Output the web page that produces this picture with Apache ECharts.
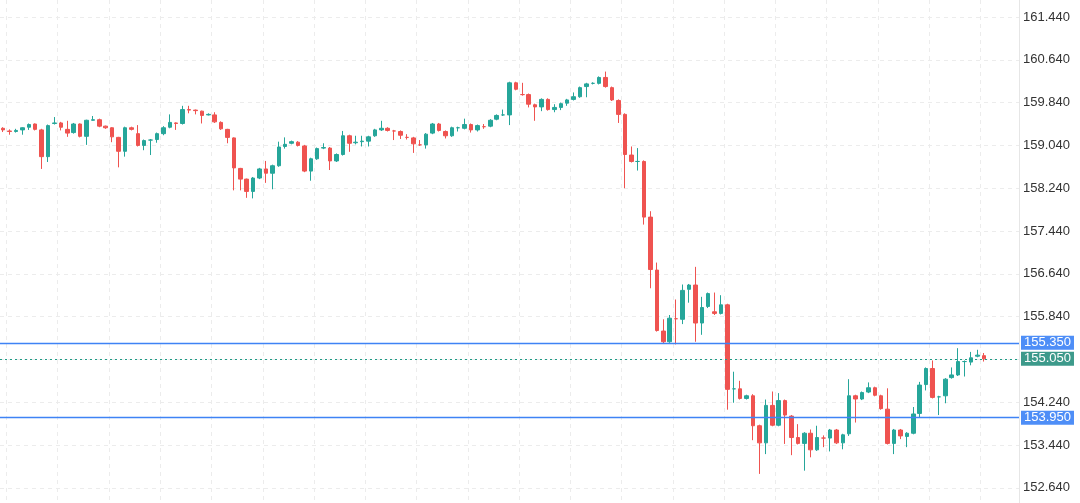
<!DOCTYPE html>
<html><head><meta charset="utf-8">
<script src="https://cdn.jsdelivr.net/npm/echarts@6/dist/echarts.min.js"></script>
<style>html,body{margin:0;padding:0;background:#fff}#c{width:1080px;height:503px}</style>
</head><body><div id="c"></div>
<script>
// [open, close, low, high]
const ohlc = [
[159.36,159.33,159.29,159.38],[159.31,159.30,159.24,159.34],[159.30,159.32,159.28,159.35],[159.33,159.37,159.24,159.38],
[159.38,159.43,159.33,159.45],[159.44,159.34,159.32,159.45],[159.33,158.83,158.60,159.35],[158.83,159.41,158.73,159.43],
[159.45,159.46,159.43,159.57],[159.46,159.38,159.32,159.48],[159.34,159.27,159.20,159.50],[159.28,159.44,159.26,159.46],
[159.44,159.21,159.19,159.45],[159.21,159.51,159.05,159.52],[159.51,159.52,159.50,159.59],[159.52,159.40,159.38,159.54],
[159.40,159.37,159.35,159.41],[159.37,159.20,159.10,159.38],[159.19,158.93,158.63,159.20],[158.93,159.37,158.83,159.39],
[159.37,159.34,159.32,159.39],[159.26,159.04,159.02,159.42],[159.04,159.13,158.95,159.15],[159.14,159.14,158.86,159.16],
[159.15,159.26,159.09,159.28],[159.26,159.37,159.23,159.40],[159.38,159.47,159.36,159.62],[159.46,159.45,159.33,159.47],
[159.45,159.71,159.43,159.78],[159.71,159.70,159.64,159.78],[159.70,159.69,159.62,159.71],[159.68,159.60,159.45,159.69],
[159.61,159.62,159.60,159.64],[159.61,159.48,159.46,159.66],[159.47,159.35,159.33,159.49],[159.34,159.19,159.08,159.35],
[159.18,158.62,158.20,159.19],[158.61,158.41,158.20,158.62],[158.41,158.18,158.06,158.42],[158.18,158.43,158.05,158.45],
[158.43,158.60,158.41,158.62],[158.60,158.52,158.34,158.75],[158.52,158.66,158.22,158.68],[158.66,159.01,158.64,159.11],
[159.02,159.06,158.98,159.19],[159.08,159.11,159.06,159.13],[159.10,159.04,159.02,159.12],[159.03,158.56,158.54,159.05],
[158.56,158.79,158.38,158.81],[158.79,158.98,158.77,159.00],[158.99,159.00,158.97,159.08],[158.99,158.75,158.58,159.01],
[158.75,158.87,158.73,158.89],[158.87,159.22,158.85,159.31],[159.22,159.08,158.92,159.24],[159.09,159.10,159.06,159.22],
[159.11,159.12,159.02,159.22],[159.12,159.20,159.02,159.22],[159.22,159.33,159.20,159.35],[159.33,159.36,159.31,159.50],
[159.36,159.32,159.30,159.38],[159.31,159.31,159.14,159.33],[159.30,159.23,159.16,159.32],[159.19,159.19,159.15,159.25],
[159.18,159.07,158.90,159.20],[159.05,159.05,159.03,159.14],[159.05,159.25,158.98,159.27],[159.27,159.44,159.25,159.46],
[159.44,159.32,159.30,159.46],[159.30,159.22,159.17,159.32],[159.22,159.37,159.20,159.39],[159.37,159.37,159.30,159.39],
[159.36,159.43,159.34,159.54],[159.43,159.33,159.28,159.45],[159.33,159.41,159.30,159.43],[159.39,159.39,159.35,159.44],
[159.40,159.51,159.38,159.53],[159.53,159.60,159.51,159.62],[159.61,159.61,159.59,159.71],[159.61,160.21,159.42,160.23],
[160.21,160.09,160.07,160.23],[159.99,159.99,159.97,160.21],[159.99,159.81,159.75,160.01],[159.80,159.76,159.50,159.82],
[159.76,159.90,159.68,159.92],[159.90,159.71,159.69,159.92],[159.71,159.75,159.66,159.81],[159.75,159.82,159.70,159.84],
[159.83,159.89,159.78,159.91],[159.90,159.95,159.88,160.03],[159.95,160.12,159.93,160.14],[160.14,160.19,159.94,160.21],
[160.20,160.20,160.18,160.22],[160.20,160.31,160.18,160.33],[160.31,160.14,160.12,160.42],[160.12,159.89,159.87,160.14],
[159.88,159.62,159.46,159.90],[159.62,158.87,158.24,159.64],[158.86,158.74,158.72,159.02],[158.74,158.74,158.57,158.99],
[158.74,157.70,157.56,158.76],[157.70,156.72,156.37,157.81],[156.71,155.58,155.56,156.85],[155.57,155.37,155.33,155.79],
[155.37,155.81,155.35,155.87],[155.80,155.80,155.32,156.16],[155.79,156.33,155.70,156.44],[156.35,156.43,156.10,156.45],
[156.43,155.72,155.37,156.77],[155.72,156.01,155.50,156.21],[156.03,156.27,156.00,156.29],[155.93,155.90,155.87,156.29],
[155.90,156.06,155.88,156.24],[156.06,154.48,154.10,156.08],[154.49,154.49,154.23,154.81],[154.49,154.31,154.29,154.64],
[154.31,154.36,154.29,154.38],[154.36,153.80,153.53,154.39],[153.80,153.48,152.90,153.82],[153.48,154.18,153.27,154.29],
[154.18,153.81,153.79,154.44],[153.81,154.27,153.79,154.41],[154.27,154.00,153.46,154.29],[153.98,153.58,153.25,154.00],
[153.58,153.47,153.45,153.83],[153.47,153.66,152.96,153.68],[153.66,153.35,153.21,153.73],[153.35,153.58,153.33,153.80],
[153.57,153.57,153.40,153.62],[153.57,153.72,153.32,153.74],[153.72,153.48,153.46,153.74],[153.48,153.63,153.36,153.65],
[153.65,154.36,153.61,154.67],[154.36,154.30,153.86,154.38],[154.30,154.42,154.28,154.44],[154.43,154.51,154.41,154.61],
[154.51,154.37,154.35,154.53],[154.36,154.12,154.10,154.38],[154.11,153.47,153.45,154.50],[153.47,153.72,153.27,153.74],
[153.72,153.61,153.55,153.74],[153.60,153.66,153.40,153.68],[153.66,154.02,153.64,154.15],[154.03,154.56,153.96,154.62],
[154.57,154.87,154.46,154.89],[154.87,154.33,154.31,155.02],[154.34,154.34,154.00,154.36],[154.36,154.67,154.22,154.69],
[154.70,154.75,154.68,154.89],[154.75,155.00,154.73,155.25],[155.00,155.00,154.72,155.02],[154.99,155.07,154.93,155.18],
[155.10,155.12,155.08,155.22],[155.11,155.05,155.00,155.16]
];
const emptySlots = 5;
const yTicks = [152.64, 153.44, 154.24, 155.04, 155.84, 156.64, 157.44, 158.24, 159.04, 159.84, 160.64, 161.44];
const levelLines = [155.35, 153.95];
const lastPrice = 155.05;

const data = ohlc.concat(Array(emptySlots).fill('-'));
const categories = data.map((d, i) => String(i));

const labelBase = {position: 'end', color: '#fff', fontSize: 13, padding: [1, 3, 0, 3], distance: 2,
  fontFamily: 'Helvetica, Arial, sans-serif', formatter: p => p.value.toFixed(3)};

const chart = echarts.init(document.getElementById('c'));
chart.setOption({
  animation: false,
  grid: {left: -3, right: 61, top: 0, bottom: 0, containLabel: false},
  xAxis: {
    type: 'category', data: categories, boundaryGap: true,
    axisLine: {show: false}, axisTick: {show: false}, axisLabel: {show: false},
    splitLine: {show: true, interval: (i) => (i - 1) % 8 === 0, lineStyle: {color: '#ececec', type: [4, 4]}}
  },
  yAxis: {
    type: 'value', position: 'right', min: 152.356, max: 161.758,
    axisLine: {show: true, lineStyle: {color: '#e6e6e6'}},
    axisTick: {show: false, customValues: yTicks},
    axisLabel: {color: '#333', fontSize: 13, margin: 4, fontFamily: 'Helvetica, Arial, sans-serif',
      customValues: yTicks, formatter: v => v.toFixed(3)},
    splitLine: {lineStyle: {color: '#ececec', type: [4, 4]}}
  },
  series: [{
    type: 'candlestick', data: data, barWidth: 4, z: 3,
    itemStyle: {color: '#26a69a', color0: '#ef5350', borderColor: '#26a69a', borderColor0: '#ef5350', borderWidth: 1}
  }, {
    type: 'line', data: [], z: 4, color: '#3f83f5',
    markLine: {
      symbol: 'none', silent: true,
      emphasis: {disabled: true},
      lineStyle: {color: '#3f83f5', type: 'solid', width: 1.3, opacity: 1},
      data: [
        {yAxis: levelLines[0], lineStyle: {color: '#3f83f5', type: 'solid', width: 1.3, opacity: 1},
          label: Object.assign({}, labelBase, {backgroundColor: '#4e8ef7'})},
        {yAxis: levelLines[1], lineStyle: {color: '#3f83f5', type: 'solid', width: 1.3, opacity: 1},
          label: Object.assign({}, labelBase, {backgroundColor: '#4e8ef7'})},
        {yAxis: lastPrice, lineStyle: {color: '#1f9a86', type: [2, 3], width: 1.2, opacity: 1},
          label: Object.assign({}, labelBase, {backgroundColor: '#3d9a8b'})}
      ]
    }
  }]
});
</script></body></html>
